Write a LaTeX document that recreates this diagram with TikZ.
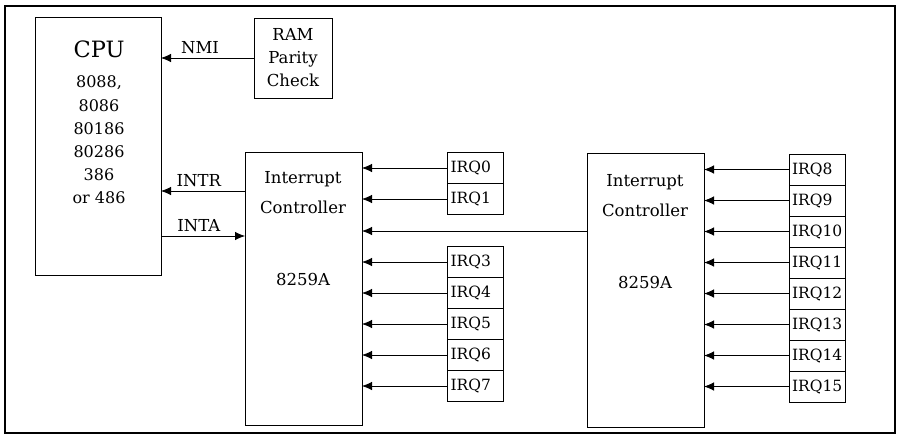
\documentclass[tikz,border=0pt]{standalone}
\usepackage{fontspec}
\setmainfont{DejaVu Serif}
\usetikzlibrary{positioning,arrows.meta}

\begin{document}
\begin{tikzpicture}[
  x=1pt, y=-1pt,
  unit/.style={draw, line width=0.8pt, inner sep=0pt, outer sep=0pt},
  irq/.style={draw, line width=0.8pt, outer sep=0pt, minimum width=56pt, minimum height=31pt,
    text width=50pt, align=left, inner xsep=3pt, font=\fontsize{15.5}{18}\selectfont},
  lbl/.style={font=\fontsize{16.5}{19}\selectfont},
  sig/.style={line width=0.8pt, ->},
  >={Latex[length=10pt,width=8.5pt]}
]
\useasboundingbox (0,0) rectangle (897,440);

% Outer frame
\node[unit, line width=2.2pt, minimum width=890pt, minimum height=427pt] (frame) at (450,219.5) {};

% CPU
\node[unit, minimum width=126pt, minimum height=258pt] (cpu) at (98,146) {};
\node[font=\fontsize{22.5}{26}\selectfont] (cputitle) at (99,49) {CPU};
\node[align=center, font=\fontsize{16}{23.2}\selectfont] (cputypes) at (99,140)
  {8088,\\8086\\80186\\80286\\386\\or 486};

% RAM parity check
\node[unit, minimum width=78pt, minimum height=80pt, align=center,
  font=\fontsize{16.5}{23}\selectfont] (ram) at (293,58) {RAM\\Parity\\Check};

% Interrupt controllers
\node[unit, minimum width=117pt, minimum height=273pt] (ica) at (303.5,288.5) {};
\node[align=center, font=\fontsize{16.5}{30}\selectfont] (icatitle) at (303,193) {Interrupt\\Controller};
\node[lbl] (icachip) at (303,279) {8259A};

\node[unit, minimum width=117pt, minimum height=274pt] (icb) at (645.5,290) {};
\node[align=center, font=\fontsize{16.5}{30}\selectfont] (icbtitle) at (645,196) {Interrupt\\Controller};
\node[lbl] (icbchip) at (645,282) {8259A};

% IRQ lines, first controller
\node[irq] (irq0) at (475.5,168) {IRQ0};
\node[irq, below=0pt of irq0] (irq1) {IRQ1};
\node[irq] (irq3) at (475.5,262) {IRQ3};
\node[irq, below=0pt of irq3] (irq4) {IRQ4};
\node[irq, below=0pt of irq4] (irq5) {IRQ5};
\node[irq, below=0pt of irq5] (irq6) {IRQ6};
\node[irq, below=0pt of irq6] (irq7) {IRQ7};

% IRQ lines, second controller
\node[irq] (irq8) at (817,169.5) {IRQ8};
\node[irq, below=0pt of irq8] (irq9) {IRQ9};
\node[irq, below=0pt of irq9] (irq10) {IRQ10};
\node[irq, below=0pt of irq10] (irq11) {IRQ11};
\node[irq, below=0pt of irq11] (irq12) {IRQ12};
\node[irq, below=0pt of irq12] (irq13) {IRQ13};
\node[irq, below=0pt of irq13] (irq14) {IRQ14};
\node[irq, below=0pt of irq14] (irq15) {IRQ15};

% Signals between CPU and controller
\coordinate (intr) at (245,191);
\coordinate (inta) at (161,236);
\coordinate (cascade) at (587,231);
\draw[sig] (ram.west) -- node[lbl, pos=0.58, above=1pt] {NMI} (ram.west -| cpu.east);
\draw[sig] (intr) -- node[lbl, pos=0.55, above=1pt] {INTR} (intr -| cpu.east);
\draw[sig] (inta) -- node[lbl, pos=0.45, above=1pt] {INTA} (inta -| ica.west);
\draw[sig] (cascade) -- (cascade -| ica.east);

% Request arrows
\draw[sig] (irq0.west) -- (irq0.west -| ica.east);
\draw[sig] (irq1.west) -- (irq1.west -| ica.east);
\draw[sig] (irq3.west) -- (irq3.west -| ica.east);
\draw[sig] (irq4.west) -- (irq4.west -| ica.east);
\draw[sig] (irq5.west) -- (irq5.west -| ica.east);
\draw[sig] (irq6.west) -- (irq6.west -| ica.east);
\draw[sig] (irq7.west) -- (irq7.west -| ica.east);
\draw[sig] (irq8.west) -- (irq8.west -| icb.east);
\draw[sig] (irq9.west) -- (irq9.west -| icb.east);
\draw[sig] (irq10.west) -- (irq10.west -| icb.east);
\draw[sig] (irq11.west) -- (irq11.west -| icb.east);
\draw[sig] (irq12.west) -- (irq12.west -| icb.east);
\draw[sig] (irq13.west) -- (irq13.west -| icb.east);
\draw[sig] (irq14.west) -- (irq14.west -| icb.east);
\draw[sig] (irq15.west) -- (irq15.west -| icb.east);

\end{tikzpicture}
\end{document}
